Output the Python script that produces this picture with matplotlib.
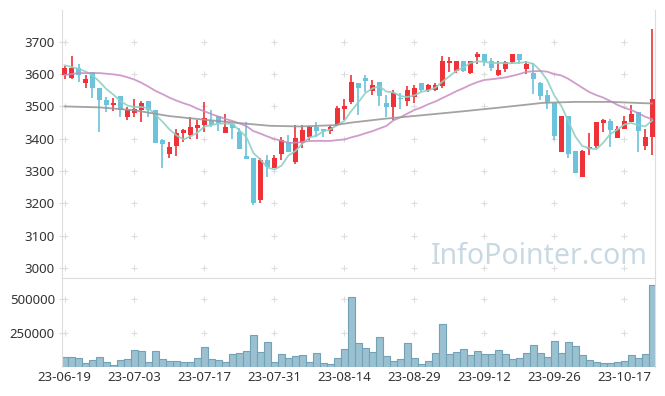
import numpy as np
import pandas as pd
import matplotlib
matplotlib.use("Agg")
import matplotlib.pyplot as plt

plt.rcParams['font.family'] = ['Noto Sans', 'DejaVu Sans']

# daily candles (trading days 23-06-19 .. 23-10-23)
opens = [3598, 3589, 3620, 3573, 3605, 3558, 3521, 3505, 3533, 3467,
         3480, 3490, 3516, 3490, 3395, 3354, 3378, 3418, 3411, 3434,
         3443, 3455, 3470, 3418, 3446, 3422, 3346, 3341, 3210, 3334,
         3311, 3352, 3390, 3328, 3387, 3404, 3437, 3429, 3424, 3442,
         3491, 3514, 3573, 3589, 3547, 3574, 3511, 3497, 3525, 3518,
         3528, 3573, 3552, 3552, 3564, 3634, 3610, 3641, 3604, 3652,
         3662, 3640, 3598, 3615, 3637, 3662, 3615, 3603, 3573, 3535,
         3511, 3359, 3470, 3363, 3282, 3369, 3377, 3450, 3455, 3401,
         3429, 3451, 3483, 3378, 3404]
highs = [3625, 3655, 3630, 3598, 3605, 3558, 3529, 3525, 3533, 3498,
         3524, 3517, 3516, 3490, 3400, 3389, 3429, 3429, 3468, 3457,
         3515, 3490, 3470, 3476, 3446, 3432, 3451, 3341, 3340, 3349,
         3349, 3406, 3411, 3444, 3442, 3440, 3452, 3429, 3442, 3500,
         3524, 3596, 3573, 3596, 3581, 3574, 3535, 3550, 3540, 3562,
         3566, 3573, 3570, 3572, 3655, 3652, 3641, 3641, 3641, 3668,
         3662, 3650, 3640, 3640, 3662, 3662, 3640, 3635, 3575, 3550,
         3511, 3470, 3470, 3363, 3366, 3418, 3451, 3460, 3460, 3440,
         3470, 3505, 3483, 3430, 3740]
lows = [3586, 3586, 3574, 3558, 3525, 3422, 3483, 3485, 3466, 3459,
        3467, 3453, 3467, 3387, 3310, 3339, 3348, 3390, 3400, 3400,
        3420, 3435, 3424, 3418, 3400, 3369, 3336, 3195, 3200, 3282,
        3311, 3334, 3360, 3323, 3370, 3395, 3406, 3406, 3415, 3438,
        3459, 3507, 3473, 3545, 3535, 3500, 3468, 3459, 3493, 3500,
        3510, 3545, 3545, 3548, 3557, 3605, 3603, 3605, 3600, 3630,
        3625, 3610, 3595, 3605, 3630, 3630, 3600, 3538, 3520, 3493,
        3396, 3359, 3339, 3293, 3282, 3349, 3370, 3420, 3373, 3401,
        3429, 3451, 3359, 3365, 3349]
closes = [3620, 3620, 3598, 3586, 3558, 3520, 3505, 3511, 3488, 3490,
          3493, 3510, 3490, 3387, 3384, 3373, 3419, 3426, 3435, 3442,
          3465, 3443, 3449, 3436, 3434, 3369, 3338, 3202, 3334, 3312,
          3339, 3396, 3360, 3403, 3426, 3435, 3424, 3424, 3435, 3494,
          3501, 3577, 3557, 3578, 3565, 3533, 3497, 3543, 3522, 3550,
          3558, 3552, 3565, 3565, 3641, 3641, 3641, 3610, 3641, 3662,
          3637, 3620, 3612, 3637, 3662, 3643, 3631, 3586, 3533, 3511,
          3408, 3470, 3354, 3293, 3363, 3375, 3451, 3457, 3426, 3430,
          3455, 3476, 3424, 3406, 3522]
volumes = [73500, 73500, 66000, 29000, 51000, 73500, 37000, 15000, 51000, 59000,
           125000, 118000, 37000, 118000, 59000, 44000, 44000, 37000, 37000, 66000,
           147000, 59000, 51000, 37000, 96000, 103000, 118000, 235000, 110000, 184000,
           37000, 96000, 66000, 81000, 88000, 37000, 103000, 29000, 22000, 66000,
           132000, 515000, 176000, 140000, 110000, 221000, 81000, 44000, 59000, 176000,
           66000, 22000, 44000, 103000, 316000, 96000, 110000, 132000, 88000, 118000,
           96000, 96000, 125000, 96000, 59000, 66000, 103000, 159000, 103000, 73500,
           191000, 103000, 184000, 154000, 88000, 51000, 37000, 29000, 29000, 37000,
           44000, 88000, 66000, 96000, 598000]

# moving averages: first values depend on days before the window
ma5_head = [3627, 3622, 3616, 3608]
ma20_head = [3597, 3600, 3603, 3603, 3603, 3603, 3601, 3599, 3596, 3590,
             3583, 3573, 3561, 3548, 3538, 3527, 3518, 3510, 3503]
# long MA
ma_long_x = [0, 5, 10, 15, 19.5, 24.7, 29.4, 33.7, 38.6, 41, 45.8, 48.3,
             52.7, 57, 62, 66.3, 68.4, 73, 78, 84]
ma_long_y = [3500, 3497, 3488, 3470, 3460, 3449, 3440, 3438, 3442, 3450, 3462, 3467,
             3476, 3485, 3496, 3506, 3511, 3514, 3514, 3509]

tick_labels = ['23-06-19', '23-07-03', '23-07-17', '23-07-31', '23-08-14',
               '23-08-29', '23-09-12', '23-09-26', '23-10-17']

UP = '#ef3237'
DOWN = '#6cc4dc'

df = pd.DataFrame({'open': opens, 'high': highs, 'low': lows, 'close': closes, 'vol': volumes})
n = len(df)
xs = np.arange(n)

ma5 = df['close'].rolling(5).mean().to_numpy()
ma5[:4] = ma5_head
ma20 = df['close'].rolling(20).mean().to_numpy()
ma20[:19] = ma20_head

fig = plt.figure(figsize=(6.65, 3.96), dpi=100)
ax = fig.add_axes([0.0928, 0.2992, 0.8922, 0.6755])
axv = fig.add_axes([0.0928, 0.0725, 0.8922, 0.2267], sharex=ax)

up = df['close'] >= df['open']
colors = np.where(up, UP, DOWN)
body_lo = np.minimum(df['open'], df['close'])
body_h = np.maximum(np.abs(df['close'] - df['open']), 2)

ax.vlines(xs, df['low'], df['high'], colors=colors, linewidth=1.2, zorder=2)
ax.bar(xs, body_h, bottom=body_lo, width=0.66, color=colors, linewidth=0, zorder=3)

ax.plot(xs, ma5, color='#8fd0c6', lw=1.3, alpha=0.9, zorder=4)
ax.plot(xs, ma20, color='#c98bc3', lw=1.3, alpha=0.85, zorder=4)
ax.plot(ma_long_x, ma_long_y, color='#999999', lw=1.3, alpha=0.9, zorder=4)

axv.bar(xs, df['vol'], width=1.0, color='#9bc1d1', edgecolor='#72a2b8', linewidth=0.8)

ax.set_xlim(-0.4, 84.4)
ax.set_ylim(2971, 3798)
axv.set_ylim(0, 655000)

xt = list(range(0, 81, 10))
ax.set_xticks(xt)
axv.set_xticks(xt)
axv.set_xticklabels(tick_labels)
ax.tick_params(axis='x', labelbottom=False, length=0)
ax.set_yticks(range(3000, 3701, 100))
axv.set_yticks([250000, 500000])

for a in (ax, axv):
    for s in a.spines.values():
        s.set_color('#dddddd')
    a.tick_params(axis='y', direction='inout', length=4, color='#dddddd',
                  labelsize=9.5, labelcolor='#333333', pad=3)
    a.tick_params(axis='x', length=0, labelsize=9.5, labelcolor='#333333', pad=3)
ax.spines['top'].set_visible(False)
axv.spines['bottom'].set_visible(False)

# small '+' markers at grid crossings
gx, gy = np.meshgrid(xt, range(3000, 3701, 100))
ax.scatter(gx.ravel(), gy.ravel(), marker='+', s=18, color='#dddddd', lw=0.8, zorder=1)
gx, gy = np.meshgrid(xt, [250000, 500000])
axv.scatter(gx.ravel(), gy.ravel(), marker='+', s=18, color='#dddddd', lw=0.8, zorder=0)

ax.text(0.988, 0.025, 'InfoPointer.com', transform=ax.transAxes, ha='right', va='bottom',
        fontsize=20.5, color='#c9d9e4', zorder=0)

fig.savefig('out.png', dpi=100)
